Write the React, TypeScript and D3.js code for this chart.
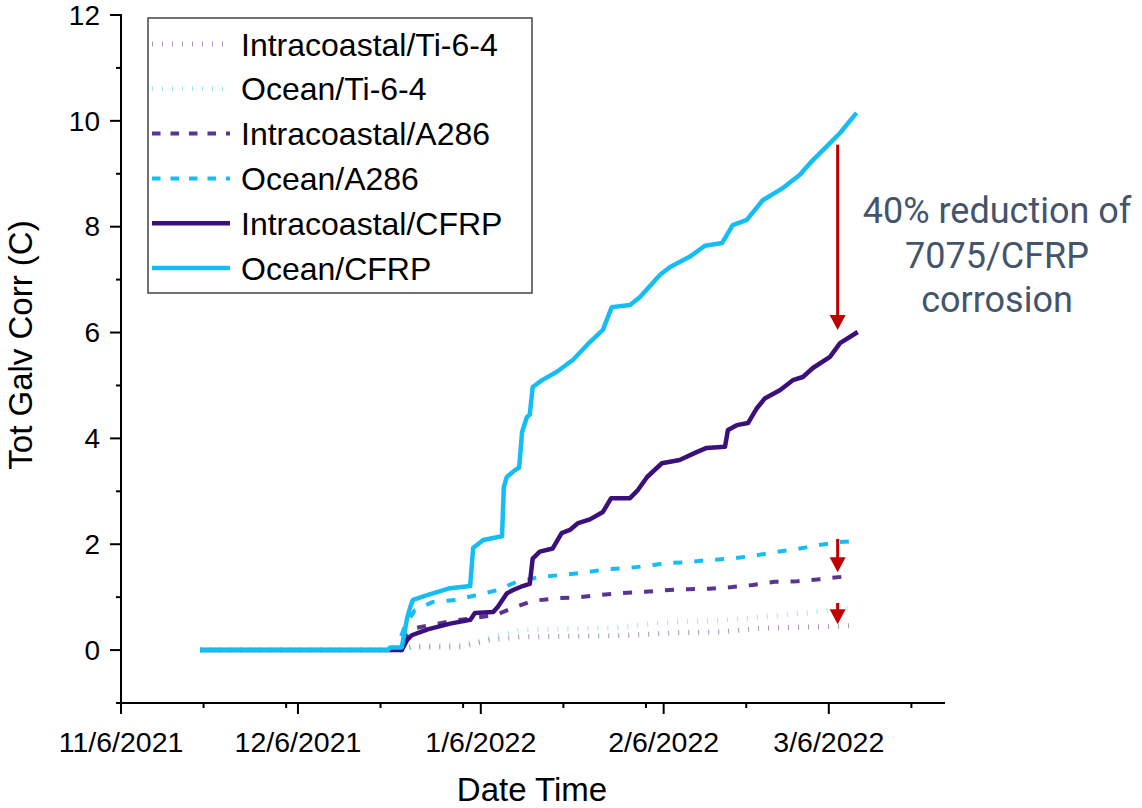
import React from "react";
import * as d3 from "d3";

// ---------- data (x = days since 11/6/2021, y = Tot Galv Corr in C) ----------
const BASE_DATE = "2021-11-06";

const intraTi: [number, number][] = [
  [13.4, 0], [47.6, 0], [48.1, 0.04], [49.5, 0.06], [57.8, 0.06], [62.5, 0.19], [67.6, 0.25],
  [75.6, 0.26], [83.4, 0.27], [85.8, 0.28], [95.1, 0.33], [101.5, 0.34], [108.3, 0.41],
  [114.7, 0.43], [121.5, 0.45], [124.7, 0.47],
];
const oceanTi: [number, number][] = [
  [13.4, 0], [47.3, 0], [49, 0.05], [49.5, 0.08], [57.8, 0.1], [62.5, 0.23], [67.6, 0.38],
  [75.6, 0.4], [83.4, 0.42], [85.8, 0.45], [93, 0.53], [99.8, 0.55], [106.3, 0.6],
  [109.7, 0.64], [116.3, 0.7], [122.2, 0.79], [124.7, 0.8],
];
const intraA286: [number, number][] = [
  [13.4, 0], [47.6, 0], [48.5, 0.3], [49.3, 0.4], [52.4, 0.47], [56.1, 0.55], [63.4, 0.66],
  [66.8, 0.81], [69.8, 0.93], [73.9, 0.98], [77.8, 1.0], [81.2, 1.04], [85.1, 1.08],
  [88.8, 1.1], [92.2, 1.13], [96.1, 1.15], [99.8, 1.16], [103.6, 1.19], [107.1, 1.23],
  [110.8, 1.29], [114.7, 1.3], [118.5, 1.34], [122.7, 1.39],
];
const oceanA286: [number, number][] = [
  [13.4, 0], [46.4, 0], [47.3, 0.2], [48.1, 0.45], [49.8, 0.75], [52.9, 0.91], [56.9, 0.95],
  [60.3, 1.04], [63.7, 1.13], [67.1, 1.29], [71, 1.38], [74.7, 1.42], [78.3, 1.46],
  [82.4, 1.53], [85.9, 1.55], [90, 1.6], [92.2, 1.64], [95.9, 1.66], [99.5, 1.7],
  [103.6, 1.73], [107.1, 1.78], [110.8, 1.85], [114.6, 1.91], [118.1, 1.98], [121.9, 2.04],
  [125.1, 2.06],
];
const intraCFRP: [number, number][] = [
  [13.4, 0], [47.6, 0], [48.5, 0.19], [49.3, 0.28], [52, 0.39], [55.8, 0.5], [59.2, 0.57],
  [60, 0.7], [63.1, 0.72], [63.9, 0.82], [65.4, 1.07], [66.4, 1.13], [68.1, 1.21],
  [69.3, 1.25], [69.8, 1.73], [71, 1.86], [73.2, 1.92], [74.7, 2.21], [76.1, 2.27],
  [77.5, 2.4], [79.5, 2.47], [81.7, 2.61], [83.1, 2.87], [86.3, 2.87], [87.6, 3.02],
  [89.2, 3.27], [91.7, 3.53], [94.7, 3.59], [97.6, 3.74], [99.3, 3.82], [102.4, 3.84],
  [102.9, 4.16], [104.4, 4.25], [106.3, 4.29], [107.8, 4.57], [109.2, 4.76], [111.7, 4.91],
  [113.9, 5.1], [115.6, 5.16], [117.3, 5.33], [120.2, 5.54], [121.9, 5.8], [124.9, 6.01],
];
const oceanCFRP: [number, number][] = [
  [13.4, 0], [45.3, 0], [45.6, 0.05], [47.6, 0.05], [48.5, 0.6], [49, 0.8], [49.5, 0.95],
  [51.9, 1.04], [55.8, 1.17], [59.2, 1.21], [59.7, 1.93], [61.4, 2.08], [64.6, 2.15],
  [64.9, 3.08], [65.4, 3.27], [66.8, 3.4], [67.5, 3.45], [68, 4.12], [68.8, 4.4],
  [69.3, 4.45], [69.8, 4.97], [71.4, 5.1], [73.9, 5.26], [76.6, 5.48], [79.5, 5.82],
  [81.7, 6.05], [83.2, 6.48], [86.3, 6.52], [88, 6.67], [91.4, 7.09], [93.1, 7.24],
  [96.4, 7.43], [99, 7.64], [101.9, 7.69], [103.7, 8.03], [106.1, 8.13], [108.8, 8.5],
  [112.2, 8.73], [115.1, 8.98], [116.8, 9.2], [120.2, 9.58], [121.9, 9.77], [124.7, 10.15],
];

const seriesNames = [
  "Intracoastal/Ti-6-4", "Ocean/Ti-6-4", "Intracoastal/A286",
  "Ocean/A286", "Intracoastal/CFRP", "Ocean/CFRP",
];
const seriesData = [intraTi, oceanTi, intraA286, oceanA286, intraCFRP, oceanCFRP];

const majorTickDates = ["2021-11-06", "2021-12-06", "2022-01-06", "2022-02-06", "2022-03-06"];
const minorTickDates = [
  "2021-11-20", "2021-12-04", "2021-12-20", "2022-01-03", "2022-01-20",
  "2022-02-03", "2022-02-20", "2022-03-20",
];
const yMajorTicks = [0, 2, 4, 6, 8, 10, 12];
const yMinorTicks = [-1, 1, 3, 5, 7, 9, 11];

// red arrows: [day, from value, to value]
const arrows: [number, number, number][] = [
  [121.5, 9.55, 6.05],
  [121.5, 2.1, 1.47],
  [121.5, 0.89, 0.49],
];
const annotationLines = ["40% reduction of", "7075/CFRP", "corrosion"];

// ---------- styles ----------
const OCEAN = "#14BDF5";
const INTRA = "#3C107C";
const styles = [
  { color: INTRA, width: 5, dash: "1 9", opacity: 0.45 },
  { color: OCEAN, width: 5, dash: "1 9", opacity: 0.4 },
  { color: INTRA, width: 4, dash: "9 12", opacity: 0.85 },
  { color: OCEAN, width: 4, dash: "9 12", opacity: 1 },
  { color: INTRA, width: 4.5, dash: "", opacity: 1 },
  { color: OCEAN, width: 4.5, dash: "", opacity: 1 },
];

const FONT = "'Liberation Sans', Arial, sans-serif";
const W = 1142;
const H = 808;
const X0 = 121;
const X1 = 945;
const Y_TOP = 15;
const Y_BOT = 703;

const parse = (s: string) => new Date(s + "T00:00:00Z");
const base = parse(BASE_DATE).getTime();
const dayToDate = (d: number) => new Date(base + d * 86400000);

export default function App() {
  const x = d3
    .scaleUtc()
    .domain([parse("2021-11-06"), dayToDate(139.7)])
    .range([X0, X1]);
  const y = d3.scaleLinear().domain([-1, 12]).range([Y_BOT, Y_TOP]);
  const fmt = d3.utcFormat("%-m/%-d/%Y");
  const line = d3
    .line<[number, number]>()
    .x((d) => x(dayToDate(d[0])))
    .y((d) => y(d[1]));

  return (
    <svg
      width={W}
      height={H}
      style={{ position: "absolute", left: 0, top: 0, background: "#fff" }}
    >
      <rect x={0} y={0} width={W} height={H} fill="#fff" />
      {/* series */}
      {seriesData.map((s, i) => (
        <path
          key={seriesNames[i]}
          d={line(s) || ""}
          fill="none"
          stroke={styles[i].color}
          strokeWidth={styles[i].width}
          strokeDasharray={styles[i].dash || undefined}
          strokeOpacity={styles[i].opacity}
          strokeLinejoin="round"
        />
      ))}

      {/* axes */}
      <g stroke="#000" strokeWidth={2}>
        <line x1={X0} x2={X0} y1={Y_TOP - 1} y2={Y_BOT + 1} />
        <line x1={X0 - 1} x2={X1} y1={Y_BOT} y2={Y_BOT} />
        {yMajorTicks.map((t) => (
          <line key={"ym" + t} x1={X0 - 11} x2={X0} y1={y(t)} y2={y(t)} />
        ))}
        {yMinorTicks.map((t) => (
          <line key={"yn" + t} x1={X0 - 5} x2={X0} y1={y(t)} y2={y(t)} />
        ))}
        {majorTickDates.map((t) => (
          <line key={"xm" + t} x1={x(parse(t))} x2={x(parse(t))} y1={Y_BOT} y2={Y_BOT + 11} />
        ))}
        {minorTickDates.map((t) => (
          <line key={"xn" + t} x1={x(parse(t))} x2={x(parse(t))} y1={Y_BOT} y2={Y_BOT + 5} />
        ))}
      </g>
      <g fontFamily={FONT} fontSize={28} fill="#000">
        {yMajorTicks.map((t) => (
          <text key={"yl" + t} x={100} y={y(t)} dy="0.35em" textAnchor="end">
            {t}
          </text>
        ))}
      </g>
      <g fontFamily={FONT} fontSize={28.5} fill="#000">
        {majorTickDates.map((t) => (
          <text key={"xl" + t} x={x(parse(t))} y={752} textAnchor="middle">
            {fmt(parse(t))}
          </text>
        ))}
      </g>
      <text x={532} y={801} textAnchor="middle" fontFamily={FONT} fontSize={33}>
        Date Time
      </text>
      <text
        transform="translate(32,345) rotate(-90)"
        textAnchor="middle"
        fontFamily={FONT}
        fontSize={33}
      >
        Tot Galv Corr (C)
      </text>

      {/* arrows */}
      {arrows.map(([d, from, to], i) => {
        const ax = x(dayToDate(d));
        const y1 = y(from);
        const y2 = y(to);
        const hl = 15;
        const hw = 8;
        return (
          <g key={"arr" + i} fill="#C00000" stroke="none">
            <rect x={ax - 1.5} y={y1} width={3} height={y2 - y1 - hl + 1} />
            <polygon points={`${ax - hw},${y2 - hl} ${ax + hw},${y2 - hl} ${ax},${y2}`} />
          </g>
        );
      })}

      {/* annotation */}
      <g fontFamily="Roboto, sans-serif" fontSize={36} fill="#44546A" textAnchor="middle">
        {annotationLines.map((t, i) => (
          <text key={t} x={997} y={223 + i * 44.5}>
            {t}
          </text>
        ))}
      </g>

      {/* legend */}
      <rect x={148} y={18} width={384} height={275} fill="#fff" stroke="#444" strokeWidth={1.5} />
      {seriesNames.map((n, i) => {
        const cy = 44 + i * 44.8;
        return (
          <g key={"lg" + n}>
            <line
              x1={152}
              x2={230}
              y1={cy}
              y2={cy}
              stroke={styles[i].color}
              strokeWidth={styles[i].width}
              strokeDasharray={i >= 2 && i < 4 ? "8.5 10" : styles[i].dash || undefined}
              strokeOpacity={styles[i].opacity}
            />
            <text x={241} y={cy} dy="0.36em" fontFamily={FONT} fontSize={32}>
              {n}
            </text>
          </g>
        );
      })}
    </svg>
  );
}
